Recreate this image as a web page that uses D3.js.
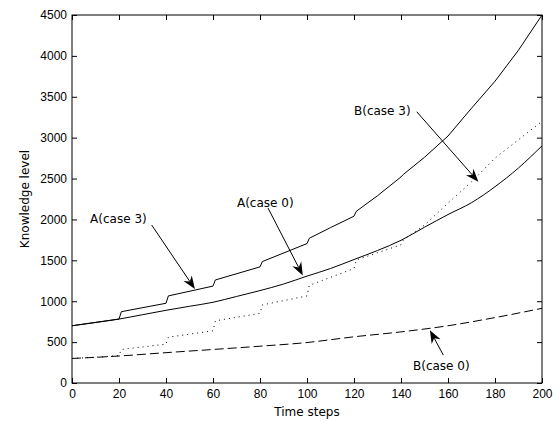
<!DOCTYPE html>
<html>
<head>
<meta charset="utf-8">
<script src="https://cdn.jsdelivr.net/npm/d3@7"></script>
<style>
  body { margin: 0; background: #fff; }
  svg { display: block; font-family: "DejaVu Sans", sans-serif; }
  .tick text { font-size: 12px; fill: #000; }
  .tick line { stroke: #000; }
</style>
</head>
<body>
<svg width="559" height="421"></svg>
<script>
// A(case 0): smooth solid
var aCase0T = [0, 10, 20, 30, 40, 50, 60, 70, 80, 90, 100, 110, 120, 130, 140, 150, 160, 170, 180, 190, 200];
var aCase0V = [700, 740, 782, 835, 889, 938, 987, 1058, 1130, 1210, 1307, 1400, 1510, 1620, 1745, 1905, 2060, 2205, 2400, 2630, 2900];

// A(case 3): solid with jumps
var aCase3T = [0, 20, 21, 40, 41, 60, 61, 80, 81, 100, 101, 110, 120, 121, 130, 140, 141, 150, 160, 170, 180, 190, 200];
var aCase3V = [700, 782, 872, 975, 1065, 1185, 1260, 1420, 1485, 1705, 1770, 1900, 2040, 2100, 2290, 2520, 2550, 2760, 3020, 3360, 3690, 4070, 4500];

// B(case 3): dotted with jumps
var bCase3T = [0, 10, 20, 21, 40, 41, 60, 61, 80, 81, 100, 101, 120, 121, 140, 141, 150, 160, 170, 180, 190, 200];
var bCase3V = [300, 315, 335, 410, 475, 560, 638, 760, 852, 955, 1065, 1195, 1400, 1505, 1690, 1750, 1930, 2200, 2460, 2750, 2975, 3200];

// B(case 0): dashed
var bCase0T = [0, 20, 40, 60, 80, 100, 120, 140, 160, 180, 200];
var bCase0V = [300, 330, 371, 410, 450, 495, 565, 625, 700, 800, 913];

var xTicks = [0, 20, 40, 60, 80, 100, 120, 140, 160, 180, 200];
var yTicks = [0, 500, 1000, 1500, 2000, 2500, 3000, 3500, 4000, 4500];

// annotations: text anchor, arrow start, arrow tip (data units)
var noteLabels = ["A(case 3)", "A(case 0)", "B(case 3)", "B(case 0)"];
var noteTextPos = [[7.7, 1956], [70.2, 2152], [120, 3277], [145.1, 159]];
var noteFrom = [[33.9, 1932], [83.4, 2140], [146.7, 3317], [158, 342]];
var noteTip = [[52.3, 1150], [98.2, 1315], [172.9, 2461], [152.3, 645]];

var mLeft = 72, mTop = 15, mRight = 542, mBottom = 383;

var svg = d3.select("svg");
var x = d3.scaleLinear().domain([0, 200]).range([mLeft, mRight]);
var y = d3.scaleLinear().domain([0, 4500]).range([mBottom, mTop]);

svg.append("rect")
	.attr("x", mLeft).attr("y", mTop)
	.attr("width", mRight - mLeft).attr("height", mBottom - mTop)
	.attr("fill", "#fff").attr("stroke", "#000").attr("stroke-width", 1);

svg.append("g")
	.attr("transform", "translate(0," + mBottom + ")")
	.call(d3.axisBottom(x).tickValues(xTicks).tickSizeInner(-5).tickSizeOuter(0).tickPadding(6).tickFormat(d3.format("d")))
	.call(function (g) { g.select(".domain").remove(); });

svg.append("g")
	.attr("transform", "translate(0," + mTop + ")")
	.call(d3.axisTop(x).tickValues(xTicks).tickSizeInner(-5).tickSizeOuter(0).tickFormat(""))
	.call(function (g) { g.select(".domain").remove(); });

svg.append("g")
	.attr("transform", "translate(" + mLeft + ",0)")
	.call(d3.axisLeft(y).tickValues(yTicks).tickSizeInner(-5).tickSizeOuter(0).tickPadding(5).tickFormat(d3.format("d")))
	.call(function (g) { g.select(".domain").remove(); });

svg.append("g")
	.attr("transform", "translate(" + mRight + ",0)")
	.call(d3.axisRight(y).tickValues(yTicks).tickSizeInner(-5).tickSizeOuter(0).tickFormat(""))
	.call(function (g) { g.select(".domain").remove(); });

var smooth = d3.line()
	.curve(d3.curveMonotoneX)
	.x(function (d) { return x(d[0]); })
	.y(function (d) { return y(d[1]); });

var jagged = d3.line()
	.x(function (d) { return x(d[0]); })
	.y(function (d) { return y(d[1]); });

function pairs(ts, vs) { return ts.map(function (t, i) { return [t, vs[i]]; }); }

var series = [
	{ pts: pairs(bCase0T, bCase0V), dash: "9,4", gen: smooth },
	{ pts: pairs(bCase3T, bCase3V), dash: "1,4", gen: jagged },
	{ pts: pairs(aCase0T, aCase0V), dash: null, gen: smooth },
	{ pts: pairs(aCase3T, aCase3V), dash: null, gen: jagged }
];

svg.selectAll(".series")
	.data(series)
	.enter()
	.append("path")
	.attr("class", "series")
	.attr("d", function (d) { return d.gen(d.pts); })
	.attr("fill", "none")
	.attr("stroke", "#000")
	.attr("stroke-width", 1)
	.attr("stroke-dasharray", function (d) { return d.dash; });

// annotation arrows
noteLabels.forEach(function (lab, i) {
	var x0 = x(noteFrom[i][0]), y0 = y(noteFrom[i][1]);
	var x1 = x(noteTip[i][0]), y1 = y(noteTip[i][1]);
	var ang = Math.atan2(y1 - y0, x1 - x0);
	var len = 13, half = 5, back = 9;
	var ux = Math.cos(ang), uy = Math.sin(ang);
	var bx = x1 - ux * len, by = y1 - uy * len;
	var nx = x1 - ux * back, ny = y1 - uy * back;
	svg.append("line")
		.attr("x1", x0).attr("y1", y0).attr("x2", nx).attr("y2", ny)
		.attr("stroke", "#000").attr("stroke-width", 1);
	svg.append("path")
		.attr("d", "M" + x1 + "," + y1 +
			"L" + (bx - uy * half) + "," + (by + ux * half) +
			"L" + nx + "," + ny +
			"L" + (bx + uy * half) + "," + (by - ux * half) + "Z")
		.attr("fill", "#000");
	svg.append("text")
		.attr("x", x(noteTextPos[i][0]))
		.attr("y", y(noteTextPos[i][1]))
		.attr("font-size", 12)
		.text(lab);
});

svg.append("text")
	.attr("x", (mLeft + mRight) / 2)
	.attr("y", 416)
	.attr("text-anchor", "middle")
	.attr("font-size", 12)
	.text("Time steps");

svg.append("text")
	.attr("transform", "translate(28.5," + ((mTop + mBottom) / 2) + ") rotate(-90)")
	.attr("text-anchor", "middle")
	.attr("font-size", 12)
	.text("Knowledge level");
</script>
</body>
</html>
